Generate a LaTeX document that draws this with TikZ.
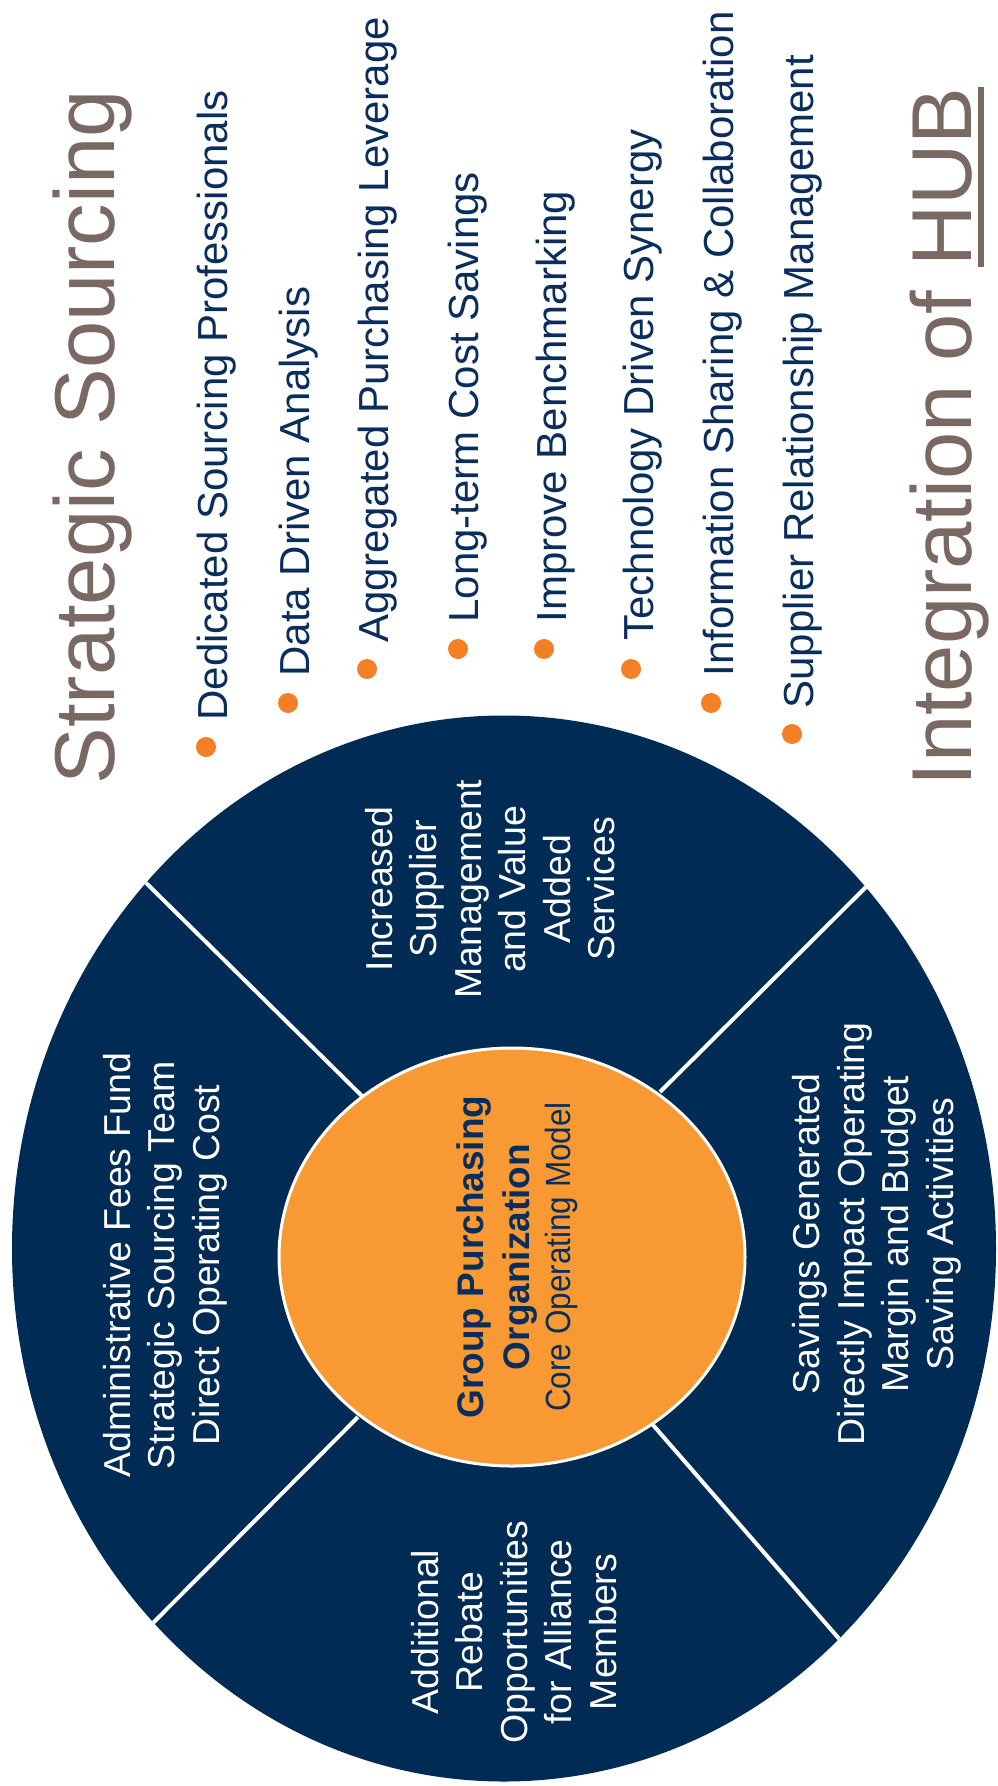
\documentclass[tikz,border=0pt]{standalone}
\usepackage{fontspec}
\setmainfont{Liberation Sans}
\newfontfamily\condfont[FakeStretch=0.9]{Liberation Sans}
\usetikzlibrary{shapes.geometric}
\definecolor{navy}{RGB}{0,43,84}
\definecolor{coreorange}{RGB}{249,153,52}
\definecolor{bulletorange}{RGB}{244,128,38}
\definecolor{titlebrown}{RGB}{122,104,98}
\definecolor{navytext}{RGB}{10,46,92}
\newcommand\hubul[1]{\setbox0\hbox{#1}\rlap{\rule[-6.5pt]{\wd0}{3pt}}\box0}
\tikzset{
  titletext/.style={rotate=90, anchor=base west, inner sep=0, text=titlebrown, font=\fontsize{42.5}{50}\selectfont},
  bullettext/.style={rotate=90, anchor=base west, inner sep=0, text=navytext, font=\fontsize{21}{26}\selectfont},
  dot/.style={circle, fill=bulletorange, inner sep=0, minimum size=10pt},
  sectortext/.style={rotate=90, align=center, text=white, inner sep=0, font=\fontsize{18.75}{22.25}\selectfont},
  divider/.style={white, line width=2pt},
  coretitle/.style={rotate=90, anchor=base, inner sep=0, text=navytext, font=\fontsize{18.5}{23}\selectfont\bfseries},
  coresub/.style={rotate=90, anchor=base, inner sep=0, text=navytext, font=\fontsize{17.5}{21}\condfont},
}
\begin{document}
\begin{tikzpicture}[x=0.5pt, y=-0.5pt]
\useasboundingbox (0,0) rectangle (997,1786);
\fill[white] (0,0) rectangle (997,1786);

% titles
\node[titletext] (title) at (114,785) {Strategic Sourcing};
\node[titletext] (hub) at (971,787) {Integration of \hubul{HUB}};

% bullet list
\node[dot] (b1) at (206,747) {};
\node[bullettext] (t1) at (227,721) {Dedicated Sourcing Professionals};
\node[dot] (b2) at (288,703) {};
\node[bullettext] (t2) at (309,677) {Data Driven Analysis};
\node[dot] (b3) at (367,669) {};
\node[bullettext] (t3) at (388,643) {Aggregated Purchasing Leverage};
\node[dot] (b4) at (458,649) {};
\node[bullettext] (t4) at (478,623) {Long-term Cost Savings};
\node[dot] (b5) at (544,649) {};
\node[bullettext] (t5) at (566,623) {Improve Benchmarking};
\node[dot] (b6) at (631,669) {};
\node[bullettext] (t6) at (653,641) {Technology Driven Synergy};
\node[dot] (b7) at (711,703) {};
\node[bullettext] (t7) at (733,677) {Information Sharing \& Collaboration};
\node[dot] (b8) at (792,734) {};
\node[bullettext] (t8) at (813,709) {Supplier Relationship Management};

% wheel
\node[ellipse, fill=navy, inner sep=0, minimum width=492pt, minimum height=533pt] (outer) at (504,1248.5) {};
\begin{scope}
  \clip (504,1248.5) ellipse [x radius=246pt, y radius=266.5pt];
  \draw[divider] (363,1097) -- (135,872);
  \draw[divider] (660,1092) -- (873,880);
  \draw[divider] (358,1417) -- (143,1633);
  \draw[divider] (653,1425) -- (848,1649);
\end{scope}
\node[ellipse, fill=coreorange, draw=white, line width=1.5pt, inner sep=0, minimum width=233pt, minimum height=209pt] (core) at (512,1257) {};

% sector texts
\node[sectortext] (left) at (165,1265) {Administrative Fees Fund\\Strategic Sourcing Team\\Direct Operating Cost};
\node[sectortext] (right) at (877,1234) {Savings Generated\\Directly Impact Operating\\Margin and Budget\\Saving Activities};
\node[sectortext] (top) at (490,889) {Increased\\Supplier\\Management\\and Value\\Added\\Services};
\node[sectortext] (bottom) at (514,1632) {Additional\\Rebate\\Opportunities\\for Alliance\\Members};

% core texts
\node[coretitle] (c1) at (483,1257) {Group Purchasing};
\node[coretitle] (c2) at (529,1257) {Organization};
\node[coresub] (c3) at (570,1257) {Core Operating Model};
\end{tikzpicture}
\end{document}
